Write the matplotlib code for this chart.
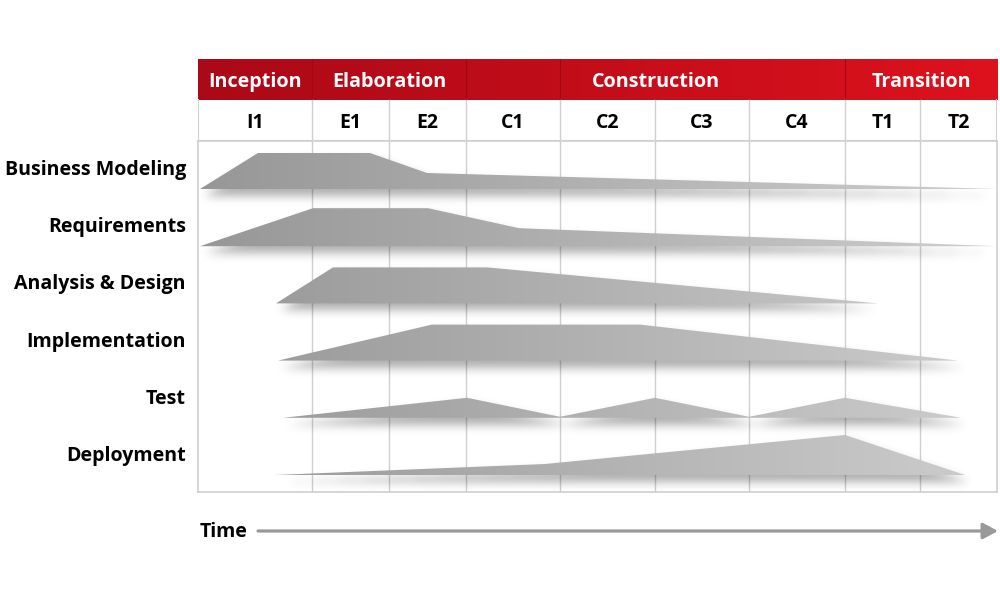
import numpy as np
import matplotlib
matplotlib.use("Agg")
import matplotlib.pyplot as plt
from matplotlib.patches import Polygon, FancyArrowPatch
from matplotlib.path import Path
from matplotlib.colors import LinearSegmentedColormap

# ---------------- data ----------------
iterations = ["I1", "E1", "E2", "C1", "C2", "C3", "C4", "T1", "T2"]
iter_lengths = [114, 77, 77, 94, 95, 94, 96, 75, 77]   # relative duration of each iteration
phases = ["Inception", "Elaboration", "Construction", "Transition"]
phase_iters = [1, 2, 4, 2]                              # iterations per phase
disciplines = ["Business Modeling", "Requirements", "Analysis & Design",
               "Implementation", "Test", "Deployment"]

# effort profiles (time, effort)
bm_time = [2, 60, 172, 229, 799]
bm_effort = [0, 36, 36, 16, 0]
req_time = [2, 115, 230, 321, 799]
req_effort = [0, 38, 38, 18, 0]
ad_time = [78, 135, 289, 680]
ad_effort = [0, 36, 36, 0]
impl_time = [80, 234, 442, 760]
impl_effort = [0, 36, 36, 0]
test_time = [85, 269, 362, 457, 551, 647, 763]
test_effort = [0, 20, 1, 20, 1, 20, 0]
dep_time = [77, 347, 647, 767]
dep_effort = [0, 11, 40, 0]

profiles = [(bm_time, bm_effort), (req_time, req_effort), (ad_time, ad_effort),
            (impl_time, impl_effort), (test_time, test_effort), (dep_time, dep_effort)]

# ---------------- layout ----------------
FONT = ["Open Sans", "DejaVu Sans"]
W, H = 1000, 600
left, right = 198, 997
top_header, top_body, bottom = 59, 141, 492
row_step = 57.2
body_h = bottom - top_body
grid_c = "#cfcfcf"

fig = plt.figure(figsize=(10, 6), dpi=100)
fig.patch.set_facecolor("white")

bounds = np.concatenate([[0], np.cumsum(iter_lengths)])
total = bounds[-1]

# ---------------- header ----------------
hax = fig.add_axes([left / W, 1 - top_body / H, (right - left) / W, (top_body - top_header) / H])
red_cmap = LinearSegmentedColormap.from_list("red", ["#ab0917", "#dd121d"])
grad = np.linspace(0, 1, 512).reshape(1, -1)
hax.imshow(grad, extent=(0, total, 1, 2), cmap=red_cmap, aspect="auto", zorder=1)
hax.set_xlim(0, total)
hax.set_ylim(0, 2)
hax.axis("off")

pidx = np.concatenate([[0], np.cumsum(phase_iters)])
for k, name in enumerate(phases):
    x0, x1 = bounds[pidx[k]], bounds[pidx[k + 1]]
    hax.text((x0 + x1) / 2, 1.45, name, color="white", ha="center", va="center",
             fontsize=14.2, fontweight="bold", family=FONT, zorder=3)
for i in [1, 3, 4, 7]:
    hax.plot([bounds[i]] * 2, [1, 2], color="#a00814", lw=0.8, zorder=2)

for i, name in enumerate(iterations):
    hax.text((bounds[i] + bounds[i + 1]) / 2, 0.45, name, color="black", ha="center",
             va="center", fontsize=14, fontweight="bold", family=FONT, zorder=3)
    if i > 0:
        hax.plot([bounds[i]] * 2, [0, 1], color=grid_c, lw=1, zorder=2)
hax.plot([0, total], [0, 0], color=grid_c, lw=1.5, zorder=2, solid_capstyle="butt")
hax.plot([0, 0], [0, 1], color=grid_c, lw=1.5, zorder=2)
hax.plot([total, total], [0, 1], color=grid_c, lw=1.5, zorder=2)

# ---------------- body ----------------
ax = fig.add_axes([left / W, 1 - bottom / H, (right - left) / W, body_h / H])
ax.set_xlim(0, total)
ax.set_ylim(0, body_h)
ax.set_xticks([])
ax.set_yticks([])
for s in ax.spines.values():
    s.set_color(grid_c)
    s.set_linewidth(1.2)
for b in bounds[1:-1]:
    ax.axvline(b, color=grid_c, lw=1, zorder=1)

bases = [17 + (len(disciplines) - 1 - i) * row_step for i in range(len(disciplines))]

# shadows (blurred, offset copies of the shapes)
nx, ny = int(total), int(body_h)
gx, gy = np.meshgrid(np.arange(nx) + 0.5, np.arange(ny) + 0.5)
pts = np.column_stack([gx.ravel(), gy.ravel()])
mask = np.zeros(nx * ny)
dx, dy = 4, -7
for (t, e), base in zip(profiles, bases):
    verts = [(x + dx, base + v + dy) for x, v in zip(t, e)]
    verts.append((t[-1] + dx, base + dy))
    verts.append((t[0] + dx, base + dy))
    p = Path(verts)
    mask = np.maximum(mask, p.contains_points(pts).astype(float))
mask = mask.reshape(ny, nx)
sig = 4.8
kx = np.arange(-15, 16)
ker = np.exp(-kx ** 2 / (2 * sig ** 2))
ker /= ker.sum()
blur = np.apply_along_axis(lambda m: np.convolve(m, ker, mode="same"), 0, mask)
blur = np.apply_along_axis(lambda m: np.convolve(m, ker, mode="same"), 1, blur)
shadow = np.zeros((ny, nx, 4))
shadow[..., 3] = 0.32 * blur
ax.imshow(shadow, extent=(0, total, 0, body_h), origin="lower", aspect="auto",
          zorder=2, interpolation="bilinear")

grey_cmap = LinearSegmentedColormap.from_list("grey", ["#979797", "#cdcdcd"])
for (t, e), base in zip(profiles, bases):
    verts = [(x, base + v) for x, v in zip(t, e)]
    verts.append((t[-1], base))
    verts.append((t[0], base))
    poly = Polygon(verts, closed=True, facecolor="none", edgecolor="none")
    ax.add_patch(poly)
    im = ax.imshow(grad, extent=(0, total, 0, body_h), cmap=grey_cmap, aspect="auto", zorder=3)
    im.set_clip_path(poly)

ax.set_xlim(0, total)
ax.set_ylim(0, body_h)

tr = ax.get_yaxis_transform()
for name, base in zip(disciplines, bases):
    ax.text(-12 / (right - left), base + 14, name, transform=tr, ha="right", va="baseline",
            fontsize=14.1, fontweight="bold", family=FONT, color="black")

# ---------------- time arrow ----------------
fig.text(200 / W, 1 - 532 / H, "Time", ha="left", va="center", fontsize=14,
         fontweight="bold", family=FONT, color="black")
arrow = FancyArrowPatch((258 / W, 1 - 531 / H), (998 / W, 1 - 531 / H),
                        transform=fig.transFigure, arrowstyle="-|>,head_length=0.45,head_width=0.24",
                        mutation_scale=20, color="#999999", lw=2.3, shrinkA=0, shrinkB=0)
fig.add_artist(arrow)

fig.savefig("out.png", dpi=100, facecolor="white")
